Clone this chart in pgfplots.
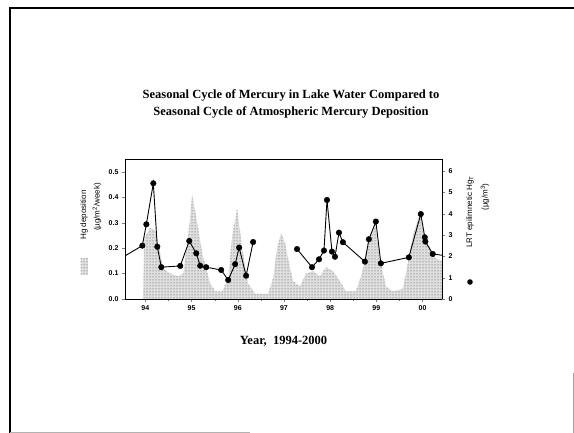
\documentclass[border=0pt]{standalone}
\usepackage{fontspec}
\setmainfont{Liberation Serif}
\setsansfont{Liberation Sans}
\usepackage{pgfplots}
\pgfplotsset{compat=1.18}
\usetikzlibrary{patterns}

\pgfplotstableread{
t v
93.957 0
93.978 0.24
94.108 0.28
94.216 0.27
94.302 0.20
94.389 0.12
94.540 0.10
94.713 0.09
94.821 0.10
94.929 0.25
95.015 0.41
95.123 0.30
95.231 0.18
95.317 0.12
95.404 0.06
95.512 0.03
95.663 0.03
95.793 0.08
95.879 0.25
95.987 0.355
96.095 0.20
96.225 0.06
96.376 0.02
96.657 0.02
96.765 0.08
96.851 0.20
96.937 0.26
97.024 0.22
97.110 0.14
97.197 0.07
97.348 0.05
97.478 0.10
97.629 0.11
97.780 0.09
97.909 0.125
98.060 0.11
98.212 0.07
98.341 0.03
98.557 0.03
98.687 0.10
98.795 0.20
98.968 0.30
99.076 0.16
99.205 0.05
99.357 0.03
99.573 0.04
99.659 0.12
99.788 0.25
99.940 0.335
100.069 0.23
100.285 0.16
100.420 0.15
}\deposition

\pgfplotstableread{
t v
93.560 2.02
93.935 2.50
94.022 3.50
94.173 5.42
94.259 2.45
94.346 1.49
94.756 1.55
94.950 2.72
95.102 2.14
95.188 1.56
95.317 1.49
95.641 1.36
95.793 0.89
95.944 1.63
96.030 2.41
96.181 1.09
96.333 2.67
96.800 nan
97.283 2.34
97.607 1.49
97.758 1.86
97.866 2.27
97.931 4.64
98.039 2.22
98.104 1.98
98.190 3.11
98.276 2.66
98.752 1.75
98.838 2.80
98.989 3.63
99.097 1.67
99.702 1.95
99.961 3.98
100.048 2.89
100.060 2.69
100.220 2.11
100.420 2.05
}\lrt

\pgfplotstableread{
t v
93.935 2.50
94.022 3.50
94.173 5.42
94.259 2.45
94.346 1.49
94.756 1.55
94.950 2.72
95.102 2.14
95.188 1.56
95.317 1.49
95.641 1.36
95.793 0.89
95.944 1.63
96.030 2.41
96.181 1.09
96.333 2.67
97.283 2.34
97.607 1.49
97.758 1.86
97.866 2.27
97.931 4.64
98.039 2.22
98.104 1.98
98.190 3.11
98.276 2.66
98.752 1.75
98.838 2.80
98.989 3.63
99.097 1.67
99.702 1.95
99.961 3.98
100.048 2.89
100.060 2.69
100.220 2.11
}\lrtmarks

\begin{document}
\begin{tikzpicture}
\path[use as bounding box] (0pt,0pt) rectangle (574pt,433pt);
% slide frame
\draw[line width=1.8pt] (574pt,425pt) -- (10pt,425pt) -- (10pt,0pt);
\draw[gray!60, line width=0.8pt] (10pt,1pt) -- (250pt,1pt);
\draw[gray!70, line width=0.8pt] (573pt,0pt) -- (573pt,60pt);

% title
\node[font=\bfseries\fontsize{12.5}{16.5}\selectfont, align=center] at (291pt,329pt)
  {Seasonal Cycle of Mercury in Lake Water Compared to\\Seasonal Cycle of Atmospheric Mercury Deposition};

\begin{axis}[
  at={(125pt,134pt)}, anchor=south west, scale only axis,
  width=317pt, height=140pt,
  xmin=93.56, xmax=100.42, ymin=0, ymax=0.551,
  xtick={94,95,96,97,98,99,100},
  xticklabels={94,95,96,97,98,99,00},
  minor x tick num=1,
  ytick={0,0.1,0.2,0.3,0.4,0.5},
  yticklabel style={/pgf/number format/.cd, fixed, fixed zerofill, precision=1},
  xtick pos=bottom, ytick pos=left,
  tick align=outside,
  major tick length=3pt, minor tick length=2pt,
  /pgf/number format/assume math mode=true,
  tick label style={font=\sffamily\bfseries\fontsize{7}{8}\selectfont},
  axis line style={line width=0.7pt},
  xlabel={\rmfamily\bfseries\fontsize{12.5}{13}\selectfont Year,\ \ 1994-2000},
  xlabel style={yshift=-19pt},
]
\addplot[fill=gray!25, draw=none, postaction={pattern=dots, pattern color=black!75}]
  table[x=t, y=v] {\deposition} \closedcycle;
\end{axis}

\begin{axis}[
  at={(125pt,134pt)}, anchor=south west, scale only axis,
  width=317pt, height=140pt,
  xmin=93.56, xmax=100.42, ymin=0, ymax=6.56,
  axis x line=none, axis y line*=right,
  ytick={0,1,2,3,4,5,6},
  tick align=outside, major tick length=3pt,
  /pgf/number format/assume math mode=true,
  tick label style={font=\sffamily\bfseries\fontsize{7}{8}\selectfont},
  axis line style={line width=0.7pt},
  unbounded coords=jump,
]
\addplot[black, line width=0.9pt] table[x=t, y=v] {\lrt};
\addplot[only marks, mark=*, mark size=2.8pt, black] table[x=t, y=v] {\lrtmarks};
\end{axis}

% left y label
\node[rotate=90, font=\sffamily\fontsize{8}{9}\selectfont] at (84pt,218pt) {Hg deposition};
\fill[gray!25] (80.5pt,158pt) rectangle (87.5pt,175pt);
\fill[pattern=dots, pattern color=black!75] (80.5pt,158pt) rectangle (87.5pt,175pt);
\node[rotate=90, font=\sffamily\fontsize{8}{9}\selectfont] at (97pt,226pt) {(\textmu g/m\textsuperscript{2}/week)};

% right y label
\node[rotate=90, font=\sffamily\fontsize{8}{9}\selectfont] at (470pt,221pt) {LRT epilimnetic Hg\textsubscript{T}};
\node[rotate=90, font=\sffamily\fontsize{8}{9}\selectfont] at (485pt,236pt) {(\textmu g/m\textsuperscript{3})};
\fill (470pt,151pt) circle (2.8pt);
\end{tikzpicture}
\end{document}
